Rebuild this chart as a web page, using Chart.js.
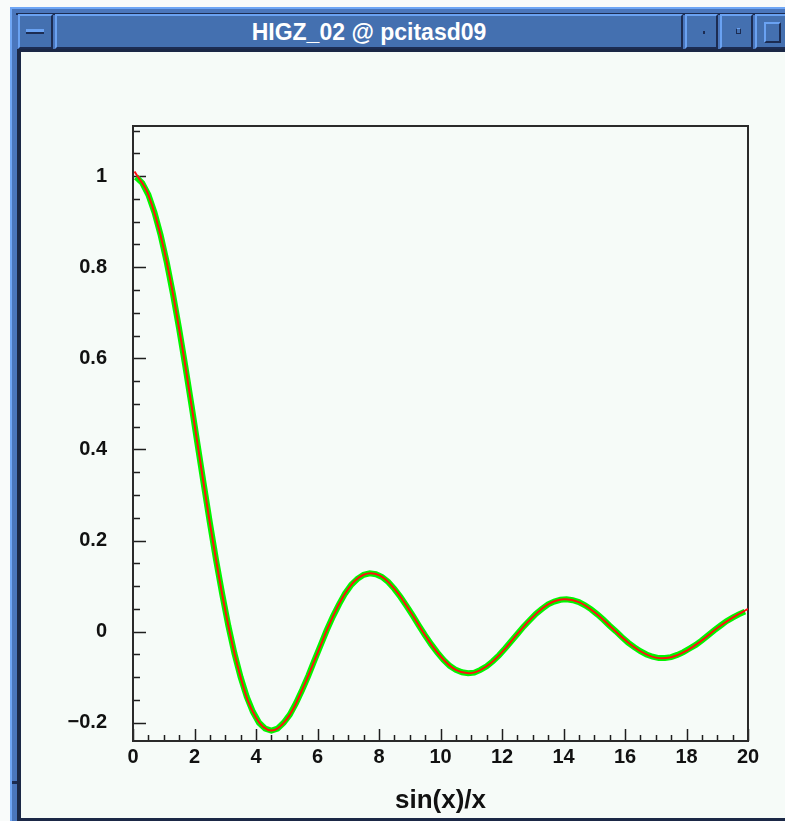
<!DOCTYPE html>
<html>
<head>
<meta charset="utf-8">
<title>sin(x)/x</title>
<script src="https://cdn.jsdelivr.net/npm/chart.js@4.4.1/dist/chart.umd.min.js"></script>
<style>
  body { margin: 0; background: #f9fbfa; width: 785px; height: 821px; overflow: hidden; position: relative; }
  .abs { position: absolute; box-sizing: border-box; }
  #frame { left: 10px; top: 7px; width: 800px; height: 830px; background: #4a76bc; border-top: 2px solid #6fa6f5; border-left: 2px solid #6fa6f5; }
  #frameline { left: 16px; top: 13px; width: 800px; height: 2px; background: #1c2c52; }
  .btn { top: 14px; height: 35px; background: #4470b0; border-top: 2px solid #6aa2f2; border-left: 2px solid #6aa2f2; border-bottom: 2px solid #1c2c52; border-right: 2px solid #1c2c52; }
  #titletext { left: 55px; top: 14px; width: 628px; height: 35px; color: #fff; font: bold 23px "Liberation Sans", Arial, sans-serif; text-align: center; line-height: 36px; }
  #content { left: 17px; top: 49px; width: 800px; height: 772px; background: #f6fbf8; border-left: 4px solid #1b2846; border-top: 3px solid #1b2846; border-bottom: 3px solid #1b2846; }
  #notch { left: 12px; top: 781px; width: 5px; height: 3px; background: #1c2c52; }
  #c { position: absolute; left: 0; top: 0; }
</style>
</head>
<body>
<div id="frame" class="abs"></div>
<div id="frameline" class="abs"></div>
<div class="abs btn" style="left:18px;width:35px;"><div class="abs" style="left:6px;top:13px;width:18px;height:5px;background:#6aa2f2;border-bottom:2px solid #1c2c52;"></div></div>
<div class="abs btn" style="left:55px;width:628px;"></div>
<div id="titletext" class="abs">HIGZ_02 @ pcitasd09</div>
<div class="abs btn" style="left:685px;width:33px;"><div class="abs" style="left:16px;top:15px;width:2px;height:3px;background:#1c2c52;"></div></div>
<div class="abs btn" style="left:720px;width:33px;"><div class="abs" style="left:14px;top:12px;width:5px;height:6px;border:1px solid #1c2c52;border-top-color:#6aa2f2;"></div></div>
<div class="abs btn" style="left:755px;width:40px;"><div class="abs" style="left:7px;top:6px;width:17px;height:21px;border:2px solid #1c2c52;border-top-color:#6aa2f2;border-left-color:#6aa2f2;"></div></div>
<div id="content" class="abs"></div>
<div id="notch" class="abs"></div>
<canvas id="c" width="785" height="821"></canvas>
<script>
// histogram-like green curve, bin centres
const xBins = [0.1, 0.3, 0.5, 0.7, 0.9, 1.1, 1.3, 1.5, 1.7, 1.9,
  2.1, 2.3, 2.5, 2.7, 2.9, 3.1, 3.3, 3.5, 3.7, 3.9,
  4.1, 4.3, 4.5, 4.7, 4.9, 5.1, 5.3, 5.5, 5.7, 5.9,
  6.1, 6.3, 6.5, 6.7, 6.9, 7.1, 7.3, 7.5, 7.7, 7.9,
  8.1, 8.3, 8.5, 8.7, 8.9, 9.1, 9.3, 9.5, 9.7, 9.9,
  10.1, 10.3, 10.5, 10.7, 10.9, 11.1, 11.3, 11.5, 11.7, 11.9,
  12.1, 12.3, 12.5, 12.7, 12.9, 13.1, 13.3, 13.5, 13.7, 13.9,
  14.1, 14.3, 14.5, 14.7, 14.9, 15.1, 15.3, 15.5, 15.7, 15.9,
  16.1, 16.3, 16.5, 16.7, 16.9, 17.1, 17.3, 17.5, 17.7, 17.9,
  18.1, 18.3, 18.5, 18.7, 18.9, 19.1, 19.3, 19.5, 19.7, 19.9];
const yBins = [0.998, 0.985, 0.959, 0.920, 0.870, 0.810, 0.741, 0.665, 0.583, 0.498,
  0.411, 0.324, 0.239, 0.158, 0.083, 0.013, -0.048, -0.100, -0.143, -0.176,
  -0.200, -0.213, -0.217, -0.213, -0.200, -0.182, -0.157, -0.128, -0.097, -0.063,
  -0.030, 0.003, 0.033, 0.060, 0.084, 0.103, 0.116, 0.125, 0.128, 0.126,
  0.120, 0.109, 0.094, 0.076, 0.056, 0.035, 0.013, -0.008, -0.028, -0.046,
  -0.062, -0.075, -0.084, -0.089, -0.091, -0.090, -0.084, -0.076, -0.065, -0.052,
  -0.037, -0.021, -0.005, 0.011, 0.025, 0.039, 0.050, 0.060, 0.066, 0.070,
  0.071, 0.069, 0.065, 0.058, 0.049, 0.038, 0.026, 0.013, 0.001, -0.012,
  -0.024, -0.034, -0.043, -0.050, -0.055, -0.058, -0.058, -0.056, -0.051, -0.045,
  -0.037, -0.029, -0.019, -0.008, 0.003, 0.013, 0.023, 0.031, 0.038, 0.044];

// red function line
const xFunc = [0.05, 0.5, 1, 1.5, 2, 2.5, 3, 3.5, 4, 4.5, 5, 5.5, 6, 6.5, 7, 7.5, 8, 8.5, 9, 9.5,
  10, 10.5, 11, 11.5, 12, 12.5, 13, 13.5, 14, 14.5, 15, 15.5, 16, 16.5, 17, 17.5, 18, 18.5, 19, 19.5, 20];
const yFunc = [1.01, 0.959, 0.841, 0.665, 0.455, 0.239, 0.047, -0.100, -0.189, -0.217,
  -0.192, -0.128, -0.047, 0.033, 0.094, 0.125, 0.124, 0.094, 0.046, -0.008,
  -0.054, -0.084, -0.091, -0.076, -0.045, -0.005, 0.032, 0.060, 0.071, 0.065,
  0.043, 0.013, -0.018, -0.043, -0.057, -0.056, -0.042, -0.019, 0.008, 0.031, 0.050];

const xTickLabels = [0, 2, 4, 6, 8, 10, 12, 14, 16, 18, 20];
const yTickLabels = [-0.2, 0, 0.2, 0.4, 0.6, 0.8, 1];
const xRange = [0, 20];
const yRange = [-0.24, 1.11];
const xMinorStep = 0.5;
const yMinorStep = 0.05;

const tickFont = { family: '"Liberation Sans", Arial, sans-serif', size: 20, weight: 'bold' };

// box round the plot + tick marks pointing inward (HIGZ style)
const higzFrame = {
    id: 'higzFrame',
    beforeDatasetsDraw(chart) {
        const { ctx, chartArea: a, scales: { x, y } } = chart;
        ctx.save();
        ctx.strokeStyle = '#1e1e1e';
        ctx.lineWidth = 1.5;
        ctx.beginPath();
        const nx = Math.round((xRange[1] - xRange[0]) / xMinorStep);
        for (let i = 0; i <= nx; i++) {
            const v = xRange[0] + i * xMinorStep;
            const major = xTickLabels.some(t => Math.abs(t - v) < 1e-6);
            const px = Math.round(x.getPixelForValue(v)) + 0.5;
            ctx.moveTo(px, a.bottom);
            ctx.lineTo(px, a.bottom - (major ? 12 : 6));
        }
        const first = Math.ceil(yRange[0] / yMinorStep);
        const last = Math.floor(yRange[1] / yMinorStep);
        for (let k = first; k <= last; k++) {
            const v = k * yMinorStep;
            const major = yTickLabels.some(t => Math.abs(t - v) < 1e-6);
            const py = Math.round(y.getPixelForValue(v)) + 0.5;
            ctx.moveTo(a.left, py);
            ctx.lineTo(a.left + (major ? 13 : 7), py);
        }
        ctx.stroke();
        ctx.lineWidth = 2;
        ctx.strokeStyle = '#2a2a2a';
        ctx.strokeRect(a.left, a.top, a.right - a.left, a.bottom - a.top);
        ctx.restore();
    }
};

const fmt = v => String(v).replace('-', '\u2212');

new Chart(document.getElementById('c'), {
    type: 'line',
    data: {
        datasets: [{
            label: 'sin(x)/x',
            data: xFunc.map((v, i) => ({ x: v, y: yFunc[i] })),
            borderColor: '#ff1010',
            borderWidth: 2,
            tension: 0.4,
            pointRadius: 0,
            fill: false
        }, {
            label: 'histo',
            data: xBins.map((v, i) => ({ x: v, y: yBins[i] })),
            borderColor: '#00f500',
            borderWidth: 6,
            pointRadius: 0,
            fill: false
        }]
    },
    options: {
        responsive: false,
        animation: false,
        layout: { padding: { top: 126, right: 37, bottom: 0, left: 0 } },
        plugins: {
            legend: { display: false },
            tooltip: { enabled: false }
        },
        scales: {
            x: {
                type: 'linear',
                min: xRange[0],
                max: xRange[1],
                afterBuildTicks: s => { s.ticks = xTickLabels.map(v => ({ value: v })); },
                afterFit: s => { s.height = 80; },
                grid: { display: false, drawTicks: false },
                border: { display: false },
                ticks: { font: tickFont, color: '#111', padding: 4, maxRotation: 0, autoSkip: false, callback: fmt },
                title: {
                    display: true,
                    text: 'sin(x)/x',
                    color: '#111',
                    font: { family: '"Liberation Sans", Arial, sans-serif', size: 26, weight: 'bold' },
                    padding: { top: 0, bottom: 5 }
                }
            },
            y: {
                type: 'linear',
                min: yRange[0],
                max: yRange[1],
                afterBuildTicks: s => { s.ticks = yTickLabels.map(v => ({ value: v })); },
                afterFit: s => { s.width = 133; },
                grid: { display: false, drawTicks: false },
                border: { display: false },
                ticks: { font: tickFont, color: '#111', padding: 26, autoSkip: false, callback: fmt }
            }
        }
    },
    plugins: [higzFrame]
});
</script>
</body>
</html>
